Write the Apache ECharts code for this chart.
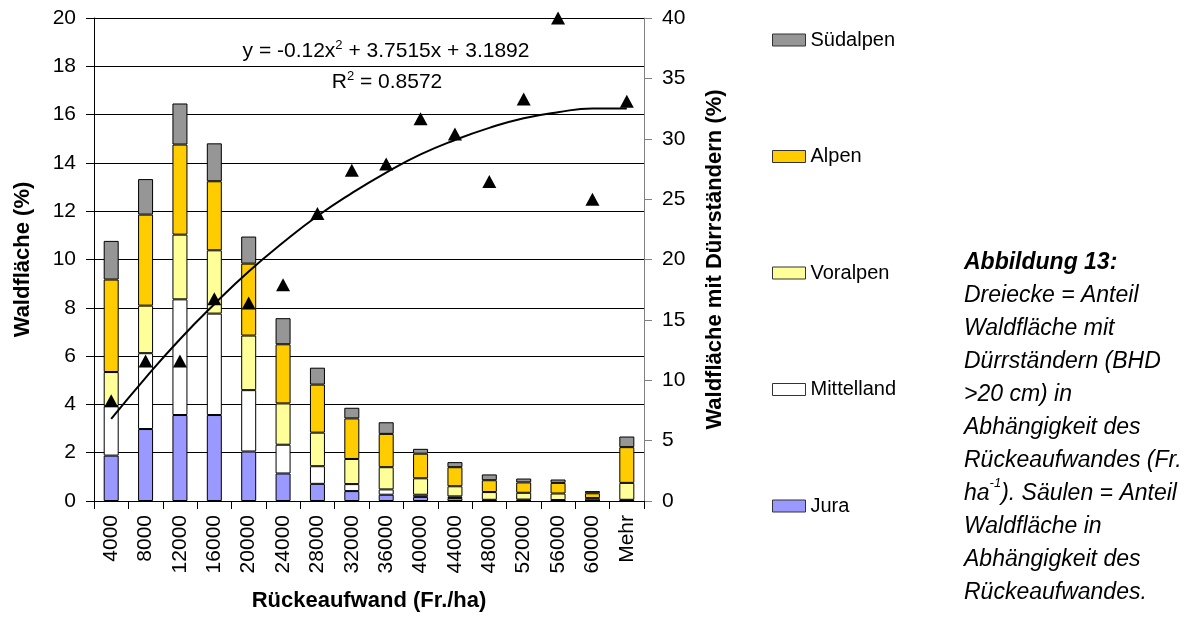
<!DOCTYPE html>
<html>
<head>
<meta charset="utf-8">
<script src="https://cdn.jsdelivr.net/npm/echarts@6/dist/echarts.min.js"></script>
<style>html,body{margin:0;padding:0;background:#fff}#c{width:1200px;height:617px}</style>
</head>
<body>
<div id="c"></div>
<script>
const categories = ['4000','8000','12000','16000','20000','24000','28000','32000','36000','40000','44000','48000','52000','56000','60000','Mehr'];
const jura       = [1.88, 2.98, 3.56, 3.56, 2.05, 1.14, 0.71, 0.41, 0.26, 0.17, 0.12, 0.02, 0.02, 0.01, 0.01, 0.02];
const mittelland = [2.05, 3.14, 4.79, 4.20, 2.54, 1.19, 0.73, 0.29, 0.22, 0.09, 0.07, 0.03, 0.04, 0.03, 0.02, 0.03];
const voralpen   = [1.41, 1.97, 2.68, 2.62, 2.26, 1.71, 1.39, 1.04, 0.92, 0.68, 0.42, 0.32, 0.28, 0.27, 0.09, 0.70];
const alpen      = [3.83, 3.77, 3.73, 2.86, 2.98, 2.45, 1.99, 1.68, 1.38, 1.02, 0.79, 0.49, 0.43, 0.44, 0.20, 1.48];
const suedalpen  = [1.60, 1.47, 1.70, 1.57, 1.12, 1.08, 0.70, 0.44, 0.48, 0.20, 0.21, 0.24, 0.16, 0.14, 0.09, 0.44];
const duerrstaender = [8.3, 11.6, 11.6, 16.75, 16.4, 17.9, 23.8, 27.4, 27.9, 31.65, 30.4, 26.45, 33.3, 40.0, 25.0, 33.1];
const trendline  = [6.8, 10.2, 13.4, 16.3, 19.0, 21.4, 23.6, 25.5, 27.2, 28.7, 29.9, 30.9, 31.7, 32.2, 32.5, 32.5];
const leftTicks  = {min: 0, max: 20, interval: 2};
const rightTicks = {min: 0, max: 40, interval: 5};

const FONT = 'Liberation Sans, Arial, sans-serif';
const chart = echarts.init(document.getElementById('c'), null, {renderer: 'canvas'});

function barSeries(name, data, color) {
  return {
    name: name, type: 'bar', stack: 'wald', yAxisIndex: 0, data: data,
    barWidth: 15,
    itemStyle: {color: color, borderColor: '#000', borderWidth: 1},
    emphasis: {disabled: true}
  };
}

const option = {
  animation: false,
  textStyle: {fontFamily: FONT},
  grid: {left: 94, right: 556, top: 18, bottom: 112, containLabel: false},
  legend: {
    orient: 'vertical', left: 772, top: 30, padding: 0,
    itemWidth: 33, itemHeight: 12, itemGap: 96.5,
    icon: 'rect',
    data: ['Südalpen', 'Alpen', 'Voralpen', 'Mittelland', 'Jura'],
    itemStyle: {borderColor: '#333', borderWidth: 1},
    textStyle: {fontFamily: FONT, fontSize: 20, color: '#000', lineHeight: 20, padding: [0,0,0,0]},
    selectedMode: false
  },
  xAxis: {
    type: 'category', data: categories,
    axisLine: {lineStyle: {color: '#000', width: 1}},
    axisTick: {show: true, length: 8, lineStyle: {color: '#000'}},
    axisLabel: {rotate: 90, interval: 0, margin: 14, fontSize: 21, color: '#000', fontFamily: FONT},
    name: 'Rückeaufwand (Fr./ha)', nameLocation: 'middle', nameGap: 89,
    nameTextStyle: {fontSize: 22, fontWeight: 'bold', color: '#000', fontFamily: FONT}
  },
  yAxis: [{
    type: 'value', min: leftTicks.min, max: leftTicks.max, interval: leftTicks.interval,
    axisLine: {show: true, lineStyle: {color: '#000'}},
    axisTick: {show: true, length: 8, lineStyle: {color: '#000'}},
    axisLabel: {margin: 18, fontSize: 21, color: '#000', fontFamily: FONT},
    splitLine: {show: true, lineStyle: {color: '#000', width: 1}},
    name: 'Waldfläche (%)', nameLocation: 'middle', nameGap: 60, nameRotate: 90,
    nameTextStyle: {fontSize: 22, fontWeight: 'bold', color: '#000', fontFamily: FONT}
  }, {
    type: 'value', position: 'right', min: rightTicks.min, max: rightTicks.max, interval: rightTicks.interval,
    axisLine: {show: true, lineStyle: {color: '#808080'}},
    axisTick: {show: true, length: 8, lineStyle: {color: '#808080'}},
    axisLabel: {margin: 18, fontSize: 21, color: '#000', fontFamily: FONT},
    splitLine: {show: false},
    name: 'Waldfläche mit Dürrständern (%)', nameLocation: 'middle', nameGap: 60, nameRotate: 90,
    nameTextStyle: {fontSize: 22, fontWeight: 'bold', color: '#000', fontFamily: FONT}
  }],
  series: [
    barSeries('Jura', jura, '#9999FF'),
    barSeries('Mittelland', mittelland, '#FFFFFF'),
    barSeries('Voralpen', voralpen, '#FFFF99'),
    barSeries('Alpen', alpen, '#FFCC00'),
    barSeries('Südalpen', suedalpen, '#969696'),
    {
      name: 'Trend', type: 'line', yAxisIndex: 1, data: trendline, smooth: true,
      showSymbol: false, symbol: 'none', clip: false, z: 5,
      lineStyle: {color: '#000', width: 2}, emphasis: {disabled: true}
    },
    {
      name: 'Dürrständer', type: 'scatter', yAxisIndex: 1, data: duerrstaender,
      symbol: 'triangle', symbolSize: [14, 13], clip: false, z: 6,
      itemStyle: {color: '#000', opacity: 1}, emphasis: {disabled: true}
    }
  ],
  graphic: [
    {
      type: 'text', x: 386, y: 51, z: 10,
      style: {
        text: '{n|y = -0.12x}{s|2}{n| + 3.7515x + 3.1892}',
        align: 'center', verticalAlign: 'middle',
        rich: {
          n: {fontSize: 21, fontFamily: FONT, fill: '#000', lineHeight: 24},
          s: {fontSize: 13, fontFamily: FONT, fill: '#000', lineHeight: 16, verticalAlign: 'top'}
        }
      }
    },
    {
      type: 'text', x: 387, y: 82, z: 10,
      style: {
        text: '{n|R}{s|2}{n| = 0.8572}',
        align: 'center', verticalAlign: 'middle',
        rich: {
          n: {fontSize: 21, fontFamily: FONT, fill: '#000', lineHeight: 24},
          s: {fontSize: 13, fontFamily: FONT, fill: '#000', lineHeight: 16, verticalAlign: 'top'}
        }
      }
    },
    {
      type: 'text', x: 964, y: 246, z: 10,
      style: {
        text: '{b|Abbildung 13:}\n' +
              '{i|Dreiecke = Anteil}\n' +
              '{i|Waldfläche mit}\n' +
              '{i|Dürrständern (BHD}\n' +
              '{i|>20 cm) in}\n' +
              '{i|Abhängigkeit des}\n' +
              '{i|Rückeaufwandes (Fr.}\n' +
              '{i|ha}{s|-1}{i|). Säulen = Anteil}\n' +
              '{i|Waldfläche in}\n' +
              '{i|Abhängigkeit des}\n' +
              '{i|Rückeaufwandes.}',
        align: 'left', verticalAlign: 'top',
        rich: {
          b: {fontSize: 23, fontFamily: FONT, fontWeight: 'bold', fontStyle: 'italic', fill: '#000', lineHeight: 33},
          i: {fontSize: 23, fontFamily: FONT, fontStyle: 'italic', fill: '#000', lineHeight: 33},
          s: {fontSize: 13, fontFamily: FONT, fontStyle: 'italic', fill: '#000', lineHeight: 26, verticalAlign: 'top'}
        }
      }
    }
  ]
};
chart.setOption(option);
</script>
</body>
</html>
